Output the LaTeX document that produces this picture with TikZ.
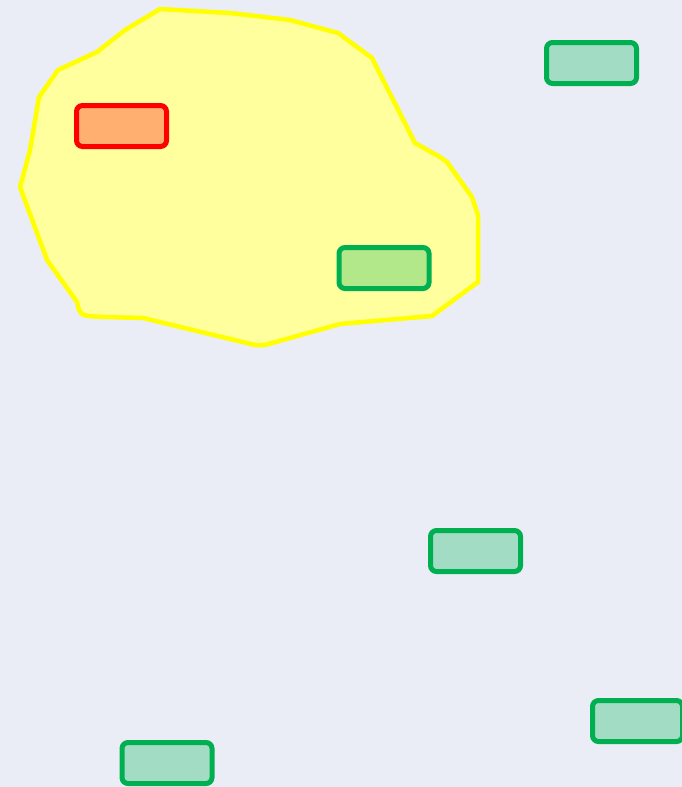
\documentclass[tikz,border=0pt]{standalone}
\usetikzlibrary{positioning}
\definecolor{bgblue}{RGB}{234,237,246}
\definecolor{zonefill}{RGB}{255,255,158}
\definecolor{zoneline}{RGB}{255,255,0}
\definecolor{hotfill}{RGB}{255,176,112}
\definecolor{okline}{RGB}{0,176,80}
\definecolor{okfill}{RGB}{162,220,196}
\definecolor{inzonefill}{RGB}{178,232,138}
\begin{document}
\begin{tikzpicture}[x=1pt,y=-1pt,
  box/.style={draw=okline,fill=okfill,line width=5pt,rounded corners=6pt,minimum width=90pt,minimum height=41pt,inner sep=0pt},
  hotbox/.style={box,draw=red,fill=hotfill},
  zonebox/.style={box,fill=inzonefill}]
  \fill[bgblue] (0,0) rectangle (682,787);
  \useasboundingbox (0,0) rectangle (682,787);
  % zone outline
  \draw[zoneline,fill=zonefill,line width=4.5pt,line join=round]
    (160,9) -- (230,13) -- (290,20) -- (338,33) -- (372,58) -- (415,143) -- (440,157) -- (447,162)
    -- (472,197) -- (478,215) -- (478,282) -- (432,316) -- (340,324) -- (265,345) -- (255,345)
    -- (143,318) -- (105,317) .. controls (80,316) .. (77,302) -- (47,260) -- (20,187) -- (30,150)
    -- (39,97) -- (58,70) -- (97,52) -- (125,30) -- cycle;
  \node[hotbox] (hot) at (121.5,126) {};
  \node[zonebox] (inner) at (384,268) {};
  \node[box] (topright) at (591.5,63) {};
  \node[box] (middle) at (475.5,551) {};
  \node[box] (lowright) at (637.5,721) {};
  \node[box] (lowleft) at (167,763) {};
\end{tikzpicture}
\end{document}
